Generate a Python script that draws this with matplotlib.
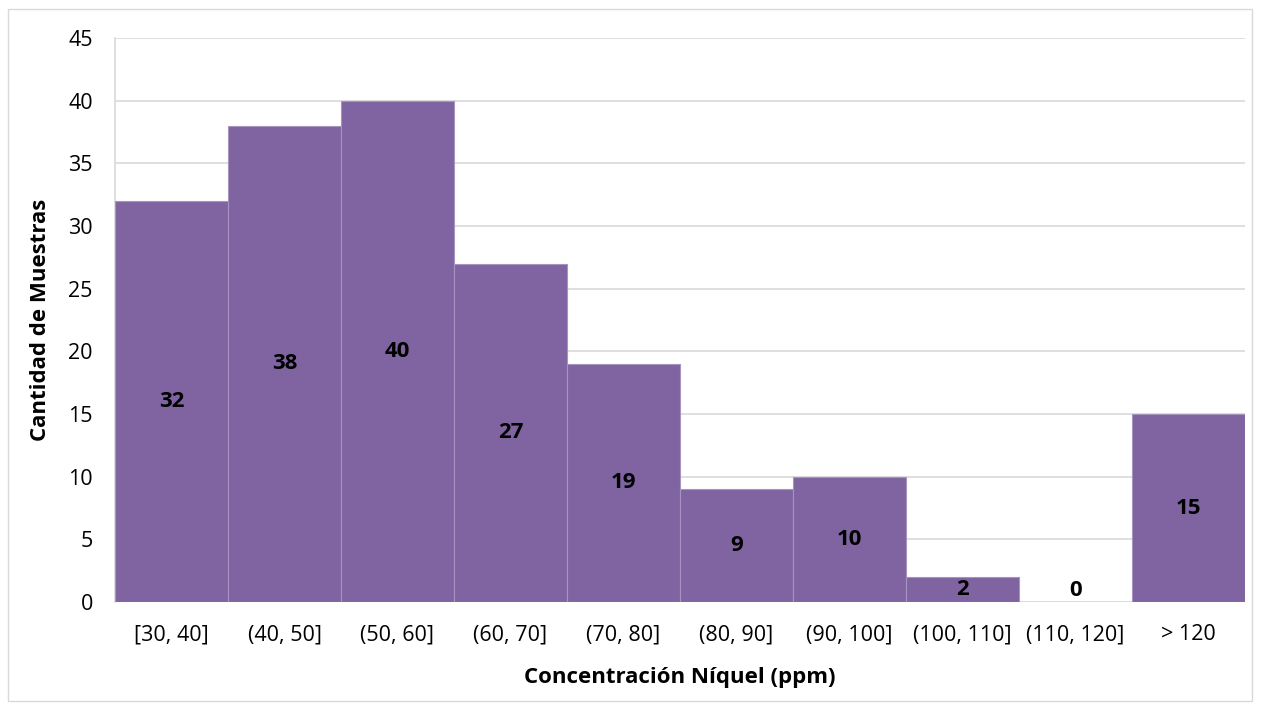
import matplotlib
matplotlib.use("Agg")
import matplotlib.pyplot as plt
from matplotlib.patches import Rectangle

categories = ["[30, 40]", "(40, 50]", "(50, 60]", "(60, 70]", "(70, 80]",
              "(80, 90]", "(90, 100]", "(100, 110]", "(110, 120]", "> 120"]
counts = [32, 38, 40, 27, 19, 9, 10, 2, 0, 15]
y_ticks = [0, 5, 10, 15, 20, 25, 30, 35, 40, 45]

plt.rcParams['font.family'] = ['Open Sans', 'DejaVu Sans']

fig = plt.figure(figsize=(12.61, 7.09), dpi=100)
ax = fig.add_axes([115 / 1261, 1 - 602 / 709, (1245 - 115) / 1261, (602 - 38) / 709])

x = list(range(len(categories)))
ax.bar(x, counts, width=1.0, color="#8064A2", edgecolor="#a793c0", linewidth=0.8, zorder=3)

for xi, v in zip(x, counts):
    ax.text(xi, max(v / 2, 0.95), str(v), ha="center", va="center",
            fontsize=16, fontweight="bold", color="black", zorder=4)

ax.set_xlim(-0.5, len(categories) - 0.5)
ax.set_ylim(0, 45)
ax.set_yticks(y_ticks)
ax.set_xticks(x)
ax.set_xticklabels(categories)
ax.tick_params(axis="both", length=0, labelsize=15.5, colors="black")
ax.tick_params(axis="x", pad=16)
ax.tick_params(axis="y", pad=16)
ax.grid(axis="y", color="#d9d9d9", linewidth=1.2, zorder=0)
for side in ["top", "right", "bottom"]:
    ax.spines[side].set_visible(False)
ax.spines["left"].set_color("#d9d9d9")
ax.spines["left"].set_linewidth(1.2)

ax.set_xlabel("Concentración Níquel (ppm)", fontsize=16, fontweight="bold", labelpad=16)
ax.set_ylabel("Cantidad de Muestras", fontsize=16, fontweight="bold", labelpad=12)

fig.patches.append(Rectangle((8 / 1261, 8 / 709), 1244 / 1261, 692 / 709,
                             transform=fig.transFigure, fill=False,
                             edgecolor="#d9d9d9", linewidth=1.0))

fig.savefig("out.png", dpi=100)
